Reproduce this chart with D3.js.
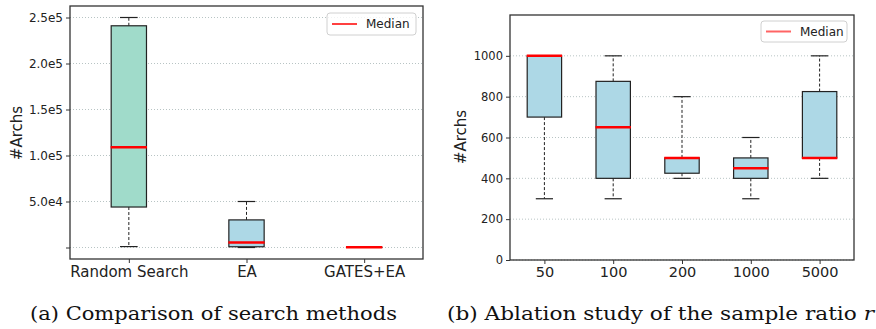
<!DOCTYPE html>
<html><head><meta charset="utf-8">
<script src="https://cdn.jsdelivr.net/npm/d3@7"></script>
<style>body{margin:0;background:#fff}svg{display:block}</style>
</head><body>
<svg id="c" width="876" height="329"></svg>
<script>
// ---- Data (a) ----
const leftCategories = ["Random Search", "EA", "GATES+EA"];
const leftWhiskerLow  = [1000, 0, 100];
const leftQ1          = [44000, 800, 150];
const leftMedian      = [109000, 5500, 200];
const leftQ3          = [241000, 30000, 250];
const leftWhiskerHigh = [250000, 50000, 300];
const leftFills       = ["#a0dbca", "#add8e6", "#add8e6"];
const leftYTicks      = [0, 50000, 100000, 150000, 200000, 250000];
const leftYTickLabels = ["", "5.0e4", "1.0e5", "1.5e5", "2.0e5", "2.5e5"];

// ---- Data (b) ----
const rightCategories = ["50", "100", "200", "1000", "5000"];
const rightWhiskerLow  = [300, 300, 400, 300, 400];
const rightQ1          = [700, 400, 425, 400, 500];
const rightMedian      = [1000, 650, 500, 450, 500];
const rightQ3          = [1000, 875, 500, 500, 825];
const rightWhiskerHigh = [1000, 1000, 800, 600, 1000];
const rightYTicks      = [0, 200, 400, 600, 800, 1000];

const svg = d3.select("#c");
const FONT = "DejaVu Sans, sans-serif";

function panel(o) {
  const g = svg.append("g");
  const x = d3.scaleLinear().domain([0.5, o.cats.length + 0.5]).range([o.x0, o.x1]);
  const y = d3.scaleLinear().domain(o.ydom).range([o.y1, o.y0]);
  const bw = x(1 + o.boxw) - x(1);

  // grid
  g.selectAll(".grid").data(o.yticks).enter().append("line")
    .attr("x1", o.x0).attr("x2", o.x1)
    .attr("y1", d => y(d)).attr("y2", d => y(d))
    .attr("stroke", "#b8c4c4").attr("stroke-width", 1).attr("stroke-dasharray", "1,2");

  // y axis
  const yAxis = d3.axisLeft(y).tickValues(o.yticks).tickSize(4).tickPadding(3)
    .tickFormat((d, i) => o.ylabels ? o.ylabels[i] : d);
  const ya = g.append("g").attr("transform", `translate(${o.x0},0)`).call(yAxis);
  ya.select(".domain").remove();
  ya.selectAll(".tick line").attr("stroke", "#333");
  ya.selectAll("text").attr("font-family", FONT).attr("font-size", o.yfs).attr("fill", "#222");

  // x axis
  const xAxis = d3.axisBottom(x).tickValues(d3.range(1, o.cats.length + 1)).tickSize(4).tickPadding(3)
    .tickFormat(d => o.cats[d - 1]);
  const xa = g.append("g").attr("transform", `translate(0,${o.y1})`).call(xAxis);
  xa.select(".domain").remove();
  xa.selectAll(".tick line").attr("stroke", "#333");
  xa.selectAll("text").attr("font-family", FONT).attr("font-size", o.xfs).attr("fill", "#222");

  // boxes
  o.cats.forEach((c, i) => {
    const cx = x(i + 1);
    const cap = bw / 2;
    // whiskers
    g.append("line").attr("x1", cx).attr("x2", cx).attr("y1", y(o.q3[i])).attr("y2", y(o.hi[i]))
      .attr("stroke", "#222").attr("stroke-width", 1).attr("stroke-dasharray", "3,2");
    g.append("line").attr("x1", cx).attr("x2", cx).attr("y1", y(o.q1[i])).attr("y2", y(o.lo[i]))
      .attr("stroke", "#222").attr("stroke-width", 1).attr("stroke-dasharray", "3,2");
    // caps
    [o.hi[i], o.lo[i]].forEach(v => {
      g.append("line").attr("x1", cx - cap / 2).attr("x2", cx + cap / 2).attr("y1", y(v)).attr("y2", y(v))
        .attr("stroke", "#222").attr("stroke-width", 1.2);
    });
    // box
    g.append("rect").attr("x", cx - bw / 2).attr("width", bw)
      .attr("y", y(o.q3[i])).attr("height", Math.max(0, y(o.q1[i]) - y(o.q3[i])))
      .attr("fill", o.fills[i]).attr("stroke", "#222").attr("stroke-width", 1.2);
    // median
    g.append("line").attr("x1", cx - bw / 2 - 0.5).attr("x2", cx + bw / 2 + 0.5)
      .attr("y1", y(o.med[i])).attr("y2", y(o.med[i]))
      .attr("stroke", "#ff0000").attr("stroke-width", 2.5);
  });

  // frame
  g.append("rect").attr("x", o.x0).attr("y", o.y0).attr("width", o.x1 - o.x0).attr("height", o.y1 - o.y0)
    .attr("fill", "none").attr("stroke", "#333").attr("stroke-width", 1.3);

  // y label
  g.append("text").attr("transform", `translate(${o.ylx},${o.yly}) rotate(-90)`)
    .attr("text-anchor", "middle").attr("font-family", FONT).attr("font-size", 15).attr("fill", "#222")
    .text("#Archs");

  // legend
  const L = o.legend;
  g.append("rect").attr("x", L.x).attr("y", L.y).attr("width", L.w).attr("height", L.h).attr("rx", 3)
    .attr("fill", "#fff").attr("fill-opacity", 0.8).attr("stroke", "#d0d0d0").attr("stroke-width", 1);
  g.append("line").attr("x1", L.x + 5).attr("x2", L.x + 30).attr("y1", L.y + L.h / 2).attr("y2", L.y + L.h / 2)
    .attr("stroke", L.color).attr("stroke-width", L.lw);
  g.append("text").attr("x", L.x + 39).attr("y", L.y + L.h / 2 + 4.3)
    .attr("font-family", FONT).attr("font-size", 12).attr("fill", "#222").text("Median");
}

panel({
  cats: leftCategories, lo: leftWhiskerLow, q1: leftQ1, med: leftMedian, q3: leftQ3, hi: leftWhiskerHigh,
  fills: leftFills, yticks: leftYTicks, ylabels: leftYTickLabels,
  x0: 70, x1: 423, y0: 6, y1: 259, ydom: [-12500, 262500], boxw: 0.3,
  yfs: 12, xfs: 15, ylx: 22, yly: 133,
  legend: {x: 327, y: 13, w: 89, h: 22, color: "#ff0000", lw: 1.5}
});

panel({
  cats: rightCategories, lo: rightWhiskerLow, q1: rightQ1, med: rightMedian, q3: rightQ3, hi: rightWhiskerHigh,
  fills: rightCategories.map(() => "#add8e6"), yticks: rightYTicks, ylabels: null,
  x0: 510, x1: 854, y0: 15, y1: 260, ydom: [0, 1200], boxw: 0.5,
  yfs: 11.5, xfs: 14.5, ylx: 466, yly: 137,
  legend: {x: 761, y: 21, w: 86, h: 21, color: "#ff6464", lw: 2}
});

// captions
const SERIF = "DejaVu Serif, serif";
svg.append("text").attr("x", 30).attr("y", 320).attr("font-family", SERIF).attr("font-size", 18)
  .attr("fill", "#111").attr("textLength", 367).attr("lengthAdjust", "spacingAndGlyphs")
  .text("(a) Comparison of search methods");
const cb = svg.append("text").attr("x", 447).attr("y", 320).attr("font-family", SERIF).attr("font-size", 18)
  .attr("fill", "#111").attr("textLength", 427).attr("lengthAdjust", "spacingAndGlyphs");
cb.append("tspan").text("(b) Ablation study of the sample ratio ");
cb.append("tspan").attr("font-style", "italic").text("r");
</script>
</body></html>
